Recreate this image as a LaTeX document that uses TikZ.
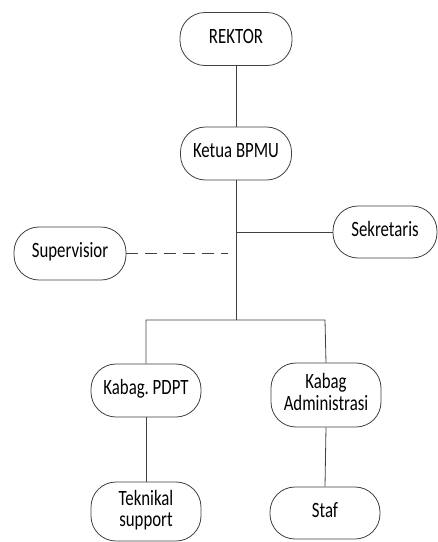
\documentclass[tikz,border=0pt]{standalone}
\usepackage{fontspec}
\usepackage{graphicx}
\setmainfont{Carlito}
\frenchspacing
\newcommand{\boxtext}[1]{\scalebox{1}[1.3]{\fontsize{16.8}{16.2}\selectfont\begin{tabular}{@{}c@{}}#1\end{tabular}}}
\begin{document}
\begin{tikzpicture}[x=1pt,y=-1pt,
  box/.style={draw=black!75, fill=white, rounded corners=25pt, line width=0.8pt,
    minimum width=110pt, minimum height=53pt, inner sep=2pt, align=center},
  link/.style={draw=black!75, line width=0.8pt}]
\useasboundingbox (0,0) rectangle (438,542);
\node[box, minimum width=112pt] (rektor) at (236,39) {\boxtext{REKTOR}};
\node[box, minimum width=111pt] (ketua) at (236,153.5) {\boxtext{Ketua BPMU}};
\node[box, minimum width=104pt, minimum height=52pt] (sek) at (385,232) {\boxtext{Sekretaris}};
\node[box, minimum width=112pt] (sup) at (70,253.5) {\boxtext{Supervisior}};
\node[box] (pdpt) at (146,390.5) {\boxtext{Kabag. PDPT}};
\node[box, minimum height=64pt] (adm) at (326,395) {\boxtext{Kabag\\Administrasi}};
\node[box, minimum height=59pt] (tek) at (146,511.5) {\boxtext{Teknikal\\support}};
\node[box, minimum height=52pt] (staf) at (325,513) {\boxtext{Staf}};
\coordinate (bar) at (236,320);
\coordinate (jsek) at (236,232);
\coordinate (dashend) at (228,253.5);
\coordinate (barL) at (146,320);
\coordinate (barR) at (325,320);
\draw[link] (rektor.south) -- (ketua.north);
\draw[link] (ketua.south) -- (bar);
\draw[link] (jsek) -- (sek.west);
\draw[link, dash pattern=on 12pt off 7pt] (sup.east) -- (dashend);
\draw[link] (pdpt.north) -- (barL) -- (barR) -- (adm.north);
\draw[link] (pdpt.south) -- (tek.north);
\draw[link] (adm.south) -- (staf.north);
\end{tikzpicture}
\end{document}
